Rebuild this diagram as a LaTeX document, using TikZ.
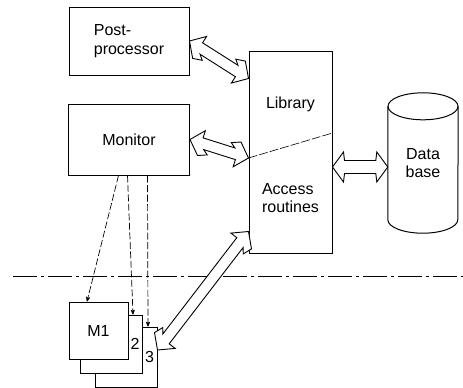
\documentclass[tikz,border=0pt]{standalone}
\usepackage{fontspec}
\setmainfont{Liberation Sans}
\usetikzlibrary{arrows,calc,positioning}

\newcommand{\boltarrow}[3][1]{%
  \pgfmathsetmacro{\boltup}{90*#1}%
  \pgfmathsetmacro{\boltdn}{-90*#1}%
  \draw [fat arrow] (#2)
    -- ($(#2)!12pt!(#3)!13pt!\boltup:(#3)$)
    -- ($(#2)!12pt!(#3)!5.5pt!\boltup:(#3)$)
    -- ($(#3)!16pt!(#2)!5.5pt!\boltdn:(#2)$)
    -- ($(#3)!21pt!(#2)!9.5pt!\boltdn:(#2)$)
    -- ($(#3)!12pt!(#2)!13pt!\boltdn:(#2)$)
    -- (#3)
    -- ($(#3)!12pt!(#2)!13pt!\boltup:(#2)$)
    -- ($(#3)!12pt!(#2)!5.5pt!\boltup:(#2)$)
    -- ($(#2)!16pt!(#3)!5.5pt!\boltdn:(#3)$)
    -- ($(#2)!21pt!(#3)!9.5pt!\boltdn:(#3)$)
    -- ($(#2)!12pt!(#3)!13pt!\boltdn:(#3)$)
    -- cycle;}

\newcommand{\dblarrow}[2]{%
  \draw [fat arrow] (#1)
    -- ($(#1)!11pt!(#2)!15pt!90:(#2)$)
    -- ($(#1)!12pt!(#2)!6.5pt!90:(#2)$)
    -- ($(#2)!12pt!(#1)!6.5pt!-90:(#1)$)
    -- ($(#2)!11pt!(#1)!15pt!-90:(#1)$)
    -- (#2)
    -- ($(#2)!11pt!(#1)!15pt!90:(#1)$)
    -- ($(#2)!12pt!(#1)!6.5pt!90:(#1)$)
    -- ($(#1)!12pt!(#2)!6.5pt!-90:(#2)$)
    -- ($(#1)!11pt!(#2)!15pt!-90:(#2)$)
    -- cycle;}

\begin{document}
\begin{tikzpicture}
  [x=1pt,y=-1pt,on grid,>=stealth',
   every node/.style={font=\fontsize{16}{18.5}\selectfont},
   box/.style={draw,line width=1pt},
   sheet/.style={box,fill=white},
   drum/.style={draw,line width=1pt},
   fat arrow/.style={draw,line width=.9pt,fill=white,line join=miter},
   link/.style={->,line width=.7pt,dash pattern=on 7pt off 2.5pt},
   split line/.style={line width=.6pt,dash pattern=on 9pt off 2pt},
   cut line/.style={line width=.8pt,dash pattern=on 24pt off 4pt on 3pt off 4pt}]
  \useasboundingbox (0,0) rectangle (463,388);
  \node [box,minimum width=120pt,minimum height=68pt,align=left] (post) at (129,41) {Post-\\processor};
  \node [box,minimum width=121pt,minimum height=71pt] (monitor) [below=98.5pt of post] {Monitor};
  \node [box,minimum width=83pt,minimum height=202pt] (lib) at (290.5,152) {};
  \node (library) [above=48pt of lib] {Library};
  \node [align=left] (access) [below=46pt of lib] {Access\\routines};
  \node [minimum width=70pt,minimum height=140pt,align=center] (db) at (423,163) {Data\\base};
  \draw [drum] ($(db.north)+(0,13.5)$) ellipse [x radius=35pt,y radius=13.5pt];
  \draw [drum] ($(db.north west)+(0,13.5)$) -- ($(db.south west)+(0,-13.5)$)
    arc [start angle=180,end angle=360,x radius=35pt,y radius=13.5pt]
    -- ($(db.north east)+(0,13.5)$);
  \coordinate (split) at ($(lib.west)+(0,6)$);
  \coordinate (splitend) at ($(lib.east)+(0,-19)$);
  \draw [split line] (split) -- (splitend);
  \draw [cut line] (13,276) -- (463,276);
  \node [sheet,minimum width=62pt,minimum height=60pt] (m3) at (126,357) {};
  \node [sheet,minimum width=62pt,minimum height=58pt] (m2) [above left=13pt and 15pt of m3] {};
  \node [sheet,minimum width=59pt,minimum height=57pt] (m1) [above left=13.5pt and 12.5pt of m2] {M1};
  \node (two) [right=24pt of m2] {2};
  \node (three) [right=23.5pt of m3] {3};
  \draw [link] ($(monitor.south)+(-10.5,0)$) -- ($(m1.north)+(-11.5,0)$);
  \draw [link] ($(monitor.south)+(-1.5,0)$) -- ($(m2.north)+(22,0)$);
  \draw [link] ($(monitor.south)+(18.5,0)$) -- ($(m3.north)+(22,0)$);
  \coordinate (libpost) at ($(lib.north west)+(0,28)$);
  \coordinate (libm) at ($(lib.south west)+(0,-22)$);
  \coordinate (mout) at ($(m3.east)+(0,-7)$);
  \coordinate (libdb) at ($(lib.east)+(0,15)$);
  \coordinate (dbin) at ($(db.west)+(0,4)$);
  \boltarrow{post.east}{libpost}
  \boltarrow{monitor.east}{split}
  \boltarrow[-1]{mout}{libm}
  \dblarrow{libdb}{dbin}
\end{tikzpicture}
\end{document}
